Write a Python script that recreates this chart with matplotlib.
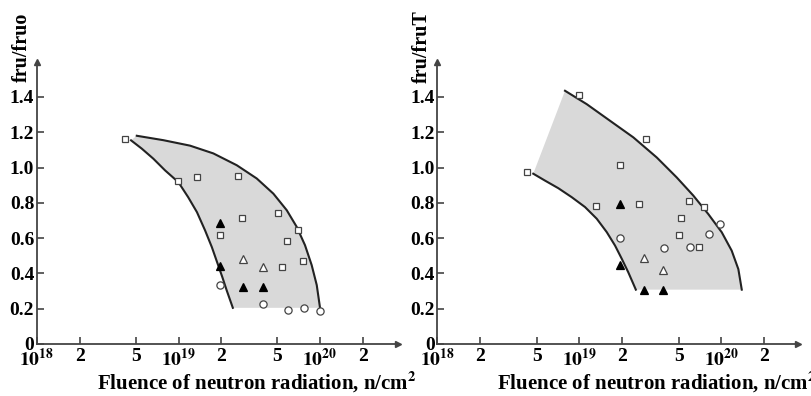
import numpy as np
import matplotlib.pyplot as plt

plt.rcParams['font.family'] = ['Liberation Serif', 'DejaVu Serif']
plt.rcParams['font.weight'] = 'bold'
plt.rcParams['mathtext.fontset'] = 'stix'

# ---- data: left panel (fru/fruo) ----
left_sq_x = [4.19e18, 9.98e18, 1.36e19, 2.63e19, 2.82e19, 5.05e19, 7.03e19, 1.95e19, 5.85e19, 7.62e19, 5.42e19]
left_sq_y = [1.163, 0.923, 0.946, 0.950, 0.716, 0.744, 0.648, 0.619, 0.585, 0.472, 0.434]
left_ft_x = [1.95e19, 1.95e19, 2.84e19, 3.94e19]
left_ft_y = [0.687, 0.441, 0.325, 0.325]
left_ot_x = [2.84e19, 3.94e19]
left_ot_y = [0.483, 0.438]
left_ci_x = [1.95e19, 3.94e19, 5.94e19, 7.74e19, 1.0e20]
left_ci_y = [0.336, 0.228, 0.190, 0.202, 0.189]

# boundary curves of the shaded band
left_low_x = [4.62e18, 5.50e18, 6.64e18, 8.03e18, 9.98e18, 1.17e19, 1.35e19, 1.54e19,
              1.72e19, 1.89e19, 2.04e19, 2.19e19, 2.42e19]
left_low_y = [1.154, 1.107, 1.050, 0.984, 0.917, 0.832, 0.747, 0.644,
              0.549, 0.455, 0.379, 0.304, 0.205]
left_up_x = [5.07e18, 7.81e18, 1.206e19, 1.762e19, 2.58e19, 3.57e19, 4.68e19, 5.82e19,
             6.84e19, 7.83e19, 8.73e19, 9.48e19, 1.0e20]
left_up_y = [1.180, 1.155, 1.124, 1.080, 1.013, 0.938, 0.852, 0.758,
             0.664, 0.560, 0.447, 0.334, 0.205]

# ---- data: right panel (fru/fruT) ----
right_sq_x = [1.0e19, 2.95e19, 1.94e19, 4.27e18, 1.31e19, 2.65e19, 5.96e19, 7.59e19, 5.22e19, 5.01e19, 6.97e19]
right_sq_y = [1.412, 1.159, 1.016, 0.974, 0.780, 0.793, 0.810, 0.776, 0.716, 0.617, 0.549]
right_ci_x = [9.8e19, 8.15e19, 1.94e19, 3.94e19, 6.05e19]
right_ci_y = [0.678, 0.621, 0.600, 0.543, 0.549]
right_ft_x = [1.94e19, 1.94e19, 2.86e19, 3.91e19]
right_ft_y = [0.791, 0.447, 0.308, 0.308]
right_ot_x = [2.86e19, 3.91e19]
right_ot_y = [0.489, 0.421]

right_low_x = [4.74e18, 5.73e18, 7.11e18, 8.84e18, 1.097e19, 1.326e19, 1.56e19, 1.784e19,
               1.99e19, 2.21e19, 2.40e19, 2.50e19]
right_low_y = [0.965, 0.926, 0.883, 0.832, 0.776, 0.710, 0.634, 0.558,
               0.483, 0.407, 0.341, 0.308]
right_up_x = [7.93e18, 1.128e19, 1.645e19, 2.40e19, 3.51e19, 4.85e19, 6.35e19, 8.10e19,
              1.007e20, 1.183e20, 1.318e20, 1.393e20]
right_up_y = [1.435, 1.359, 1.265, 1.171, 1.057, 0.944, 0.841, 0.736,
              0.633, 0.529, 0.424, 0.308]

xticks = [1e18, 2e18, 5e18, 1e19, 2e19, 5e19, 1e20, 2e20]
xticklabels = [r'$\mathbf{10^{18}}$', '2', '5', r'$\mathbf{10^{19}}$', '2', '5', r'$\mathbf{10^{20}}$', '2']
yticks = [0, 0.2, 0.4, 0.6, 0.8, 1.0, 1.2, 1.4]
yticklabels = ['0', '0.2', '0.4', '0.6', '0.8', '1.0', '1.2', '1.4']

AX_COL = '#444444'
W, H = 811, 396


def draw_panel(ax, xmax, low, up, sq, ci, ot, ft, ylabel):
    ax.set_xscale('log')
    ax.set_xlim(1e18, xmax)
    ax.set_ylim(0, 1.598)
    fx = np.concatenate([low[0], up[0][::-1]])
    fy = np.concatenate([low[1], up[1][::-1]])
    ax.fill(fx, fy, color='#d9d9d9', lw=0, zorder=1)
    ax.plot(low[0], low[1], color='#222222', lw=1.5, zorder=2, solid_joinstyle='round')
    ax.plot(up[0], up[1], color='#222222', lw=1.5, zorder=2, solid_joinstyle='round')

    ax.plot(sq[0], sq[1], 's', ms=4.3, mfc='white', mec='#444444', mew=0.9, zorder=3)
    ax.plot(ci[0], ci[1], 'o', ms=5.2, mfc='white', mec='#444444', mew=0.9, zorder=3)
    ax.plot(ot[0], ot[1], '^', ms=5.5, mfc='white', mec='#444444', mew=0.9, zorder=3)
    ax.plot(ft[0], ft[1], '^', ms=5.5, mfc='black', mec='black', mew=0.9, zorder=3)

    for s in ['top', 'right']:
        ax.spines[s].set_visible(False)
    for s in ['left', 'bottom']:
        ax.spines[s].set_color(AX_COL)
        ax.spines[s].set_linewidth(1.3)
    ax.plot(1, 0, '>', color=AX_COL, ms=5, transform=ax.transAxes, clip_on=False)
    ax.plot(0, 1, '^', color=AX_COL, ms=5, transform=ax.transAxes, clip_on=False)

    ax.set_xticks(xticks)
    ax.set_xticklabels(xticklabels)
    ax.xaxis.set_minor_locator(plt.NullLocator())
    ax.set_yticks(yticks)
    ax.set_yticklabels(yticklabels)
    ax.tick_params(axis='both', direction='in', length=5, width=1.2, color=AX_COL,
                   labelsize=14, pad=2)
    ax.tick_params(axis='x', pad=3)
    for lab in ax.get_xticklabels() + ax.get_yticklabels():
        lab.set_fontweight('bold')
    ax.text(-0.042, 1.053, ylabel, transform=ax.transAxes, rotation=90,
            ha='center', va='center', fontsize=14.5, fontweight='bold')


fig = plt.figure(figsize=(W / 100, H / 100), dpi=100)
axL = fig.add_axes([37 / W, 1 - 344 / H, (398 - 37) / W, (344 - 62) / H])
axR = fig.add_axes([437.3 / W, 1 - 344 / H, (798.3 - 437.3) / W, (344 - 62) / H])

draw_panel(axL, 10 ** 20.551, (left_low_x, left_low_y), (left_up_x, left_up_y),
           (left_sq_x, left_sq_y), (left_ci_x, left_ci_y),
           (left_ot_x, left_ot_y), (left_ft_x, left_ft_y), 'fru/fruo')
draw_panel(axR, 10 ** 20.542, (right_low_x, right_low_y), (right_up_x, right_up_y),
           (right_sq_x, right_sq_y), (right_ci_x, right_ci_y),
           (right_ot_x, right_ot_y), (right_ft_x, right_ft_y), 'fru/fruT')

xlabel = r'Fluence of neutron radiation, n/cm$^{\mathbf{2}}$'
fig.text(97 / W, 1 - 382 / H, xlabel, ha='left', va='center', fontsize=15, fontweight='bold')
fig.text(497 / W, 1 - 382 / H, xlabel, ha='left', va='center', fontsize=15, fontweight='bold')

fig.savefig('out.png', dpi=100)
